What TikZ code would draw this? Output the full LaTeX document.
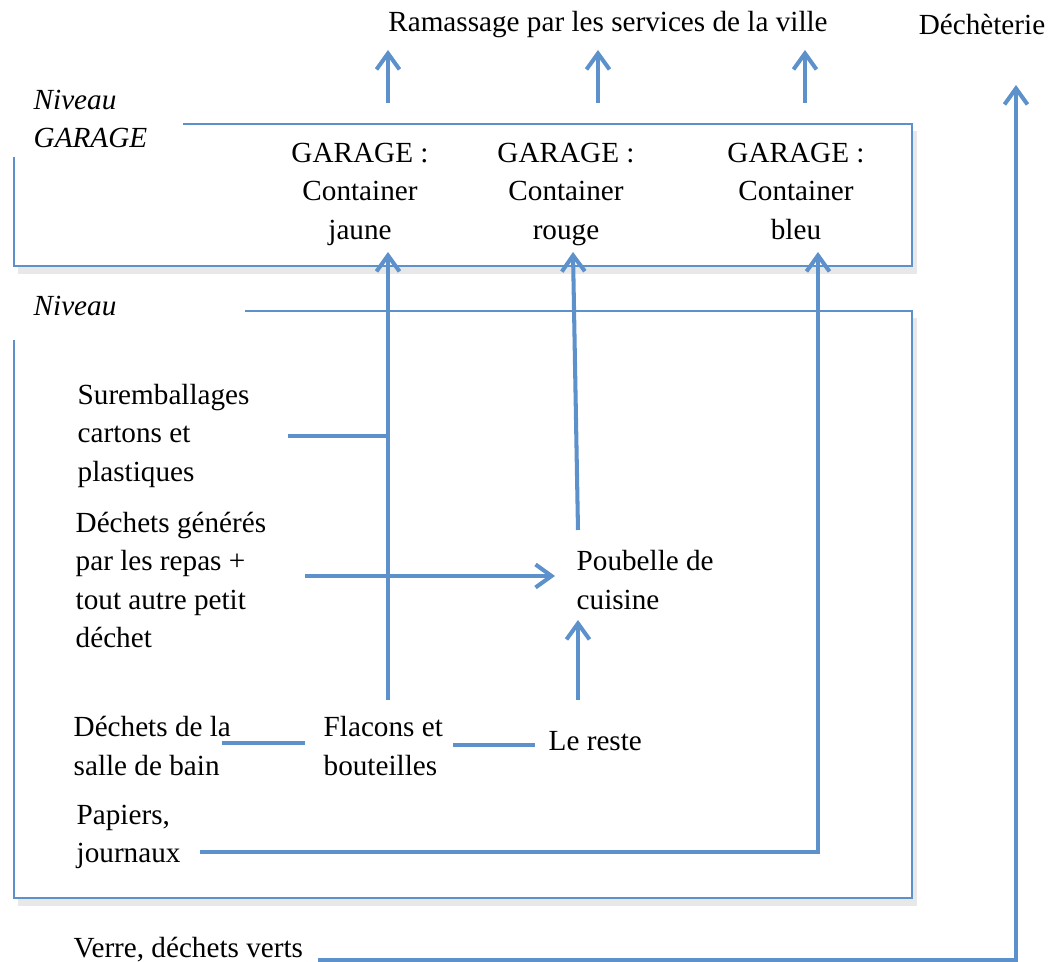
\documentclass[tikz,border=0pt]{standalone}
\usepackage{fontspec}
\setmainfont{Liberation Serif}
\usetikzlibrary{arrows.meta}
\definecolor{flowblue}{RGB}{93,145,203}
\definecolor{shadowgray}{RGB}{232,232,232}

\begin{document}
\begin{tikzpicture}[x=0.01cm,y=-0.01cm,
  lbl/.style={anchor=west,inner sep=0pt,align=left,font=\fontsize{8.3}{10.95}\selectfont},
  ctr/.style={inner sep=0pt,align=center,font=\fontsize{8.3}{10.95}\selectfont},
  flow/.style={draw=flowblue,line width=1.15pt},
  flowarr/.style={flow,-{Straight Barb[length=1.6mm,width=2.3mm]}},
  levelbox/.style={draw=flowblue,fill=white,line width=0.6pt}]
\useasboundingbox (0,0) rectangle (1050,962);
% levels
\fill[shadowgray] (18,131) rectangle (917,274);
\draw[levelbox] (14,124) rectangle (912,266);
\fill[white] (8,116) rectangle (183,157);
\fill[shadowgray] (18,318) rectangle (917,906);
\draw[levelbox] (14,311) rectangle (912,898);
\fill[white] (8,290) rectangle (245,340);
\node[lbl,font=\fontsize{8.3}{10.95}\selectfont\itshape] (niveauG) at (33,119) {Niveau\\GARAGE};
\node[lbl,font=\fontsize{8.3}{10.95}\selectfont\itshape] (niveauM) at (33,306) {Niveau};
% destinations
\node[ctr] (ramassage) at (608,25) {Ramassage par les services de la ville};
\node[ctr] (decheterie) at (982,25) {Déchèterie};
% containers
\node[ctr,anchor=north] (jaune) at (360,142) {GARAGE :\\Container\\jaune};
\node[ctr,anchor=north] (rouge) at (566,142) {GARAGE :\\Container\\rouge};
\node[ctr,anchor=north] (bleu) at (796,142) {GARAGE :\\Container\\bleu};
% sources
\node[lbl] (surembal) at (77,436) {Suremballages\\cartons et\\plastiques};
\node[lbl] (repas) at (75,580) {Déchets générés\\par les repas +\\tout autre petit\\déchet};
\node[lbl] (poubelle) at (576,580) {Poubelle de\\cuisine};
\node[lbl] (bain) at (73,746) {Déchets de la\\salle de bain};
\node[lbl] (flacons) at (323,746) {Flacons et\\bouteilles};
\node[lbl] (reste) at (548,741) {Le reste};
\node[lbl] (papiers) at (76,837) {Papiers,\\journaux};
\node[lbl] (verre) at (73,950) {Verre, déchets verts};
% connector ends
\coordinate (jBot) at (388,700); \coordinate (jTop) at (388,252); \coordinate (jUp) at (388,103);
\coordinate (rBot) at (578,530); \coordinate (rTop) at (573,252); \coordinate (rUp) at (598,103);
\coordinate (bBot) at (818,852); \coordinate (bTop) at (818,252); \coordinate (bUp) at (805,103);
\coordinate (dBot) at (1016,960); \coordinate (dTop) at (1016,85);
% to the town
\draw[flowarr] (jUp) -- (jUp |- 0,50);
\draw[flowarr] (rUp) -- (rUp |- 0,50);
\draw[flowarr] (bUp) -- (bUp |- 0,50);
% yellow, red, blue
\draw[flowarr] (jBot) -- (jTop);
\draw[flow] (surembal.east -| 288,0) -- (surembal.east -| jBot);
\draw[flowarr] (rBot) -- (rTop);
\draw[flowarr] (305,576) -- (555,576);
\draw[flowarr] (578,700) -- (578,620);
\draw[flow] (222,743) -- (305,743);
\draw[flow] (453,745) -- (535,745);
\draw[flowarr] (200,852) -- (bBot) -- (bTop);
% green waste
\draw[flowarr] (318,960) -- (dBot) -- (dTop);
\end{tikzpicture}
\end{document}
